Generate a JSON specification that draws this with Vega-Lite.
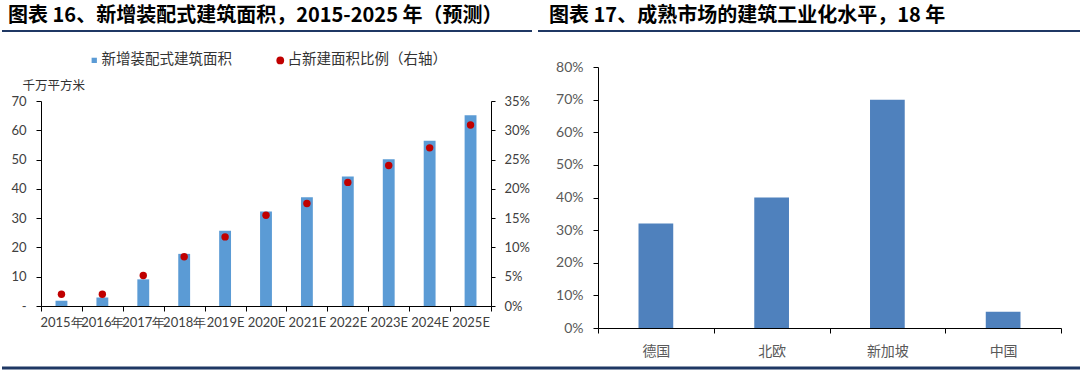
{
  "$schema": "https://vega.github.io/schema/vega-lite/v6.json",
  "padding": {"left": 0, "top": 6, "right": 0, "bottom": 0},
  "background": "white",
  "config": {"view": {"stroke": null}, "axis": {"grid": false}, "font": "Lato"},
  "spacing": 8,
  "vconcat": [
    {
      "spacing": 3,
      "hconcat": [
        {
          "spacing": 21,
          "vconcat": [
            {
              "width": 450, "height": 1,
              "data": {"values": [{}]},
              "title": {"text": "图表 16、新增装配式建筑面积，2015-2025 年（预测）", "anchor": "start", "dx": 7, "offset": 4, "font": "Noto Sans CJK SC", "fontSize": 20, "fontWeight": "bold", "color": "#000000"},
              "mark": {"type": "rule", "color": "#1F3864", "strokeWidth": 2},
              "encoding": {
                "x": {"datum": -39, "type": "quantitative", "scale": {"domain": [0, 450], "nice": false, "zero": false}, "axis": null},
                "x2": {"datum": 491},
                "y": {"datum": 0, "type": "quantitative", "scale": {"domain": [0, 1]}, "axis": null}
              }
            },
            {
              "resolve": {"scale": {"color": "independent"}, "legend": {"color": "independent"}},
              "hconcat": [
                {
                  "width": 450, "height": 205,
                  "data": {"values": [
                    {"year": "2015年", "area": 1.8, "ratio": 0.020},
                    {"year": "2016年", "area": 2.9, "ratio": 0.020},
                    {"year": "2017年", "area": 9.1, "ratio": 0.052},
                    {"year": "2018年", "area": 17.8, "ratio": 0.084},
                    {"year": "2019E", "area": 25.7, "ratio": 0.118},
                    {"year": "2020E", "area": 32.3, "ratio": 0.155},
                    {"year": "2021E", "area": 37.1, "ratio": 0.175},
                    {"year": "2022E", "area": 44.2, "ratio": 0.211},
                    {"year": "2023E", "area": 50.1, "ratio": 0.240},
                    {"year": "2024E", "area": 56.4, "ratio": 0.270},
                    {"year": "2025E", "area": 65.1, "ratio": 0.309}
                  ]},
                  "layer": [
                    {
                      "mark": {"type": "bar", "width": {"band": 0.29}},
                      "encoding": {
                        "x": {"field": "year", "type": "nominal", "sort": null,
                          "scale": {"paddingInner": 0, "paddingOuter": 0},
                          "axis": {"title": ".", "titleOpacity": 0, "titleX": -39, "titleY": 0, "titleAlign": "left", "titleBaseline": "top", "titleFontSize": 2,
                            "tickBand": "extent", "tickSize": 5, "labelAngle": 0, "labelOverlap": false, "labelFont": "Lato", "labelFontSize": 13, "labelColor": "#404040", "labelPadding": 5, "domainColor": "#000000", "tickColor": "#000000"}},
                        "y": {"field": "area", "type": "quantitative", "scale": {"domain": [0, 70]},
                          "axis": {"values": [0, 10, 20, 30, 40, 50, 60, 70], "labelExpr": "datum.value === 0 ? '-\u00a0\u00a0\u00a0' : datum.label",
                            "title": "千万平方米", "titleAngle": 0, "titleX": -19, "titleY": -16, "titleAlign": "left", "titleBaseline": "middle", "titleFont": "Noto Sans CJK SC", "titleFontSize": 12.5, "titleFontWeight": "normal", "titleColor": "#333333",
                            "labelFont": "Lato", "labelFontSize": 13, "labelColor": "#404040", "tickSize": 5, "labelPadding": 10, "domainColor": "#000000", "tickColor": "#000000"}},
                        "color": {"datum": "新增装配式建筑面积", "type": "nominal",
                          "scale": {"domain": ["新增装配式建筑面积", "占新建面积比例（右轴）"], "range": ["#5B9BD5", "#C00000"]},
                          "legend": {"orient": "none", "legendX": 46, "legendY": -48, "direction": "horizontal", "columns": 2, "title": null, "padding": 0,
                            "labelFont": "Noto Sans CJK SC", "labelFontSize": 14.5, "labelColor": "#333333", "columnPadding": 41, "labelOffset": 0, "symbolSize": 60,
                            "encode": {"symbols": {"update": {
                              "shape": {"signal": "datum.value === '新增装配式建筑面积' ? 'square' : 'circle'"},
                              "size": {"signal": "datum.value === '新增装配式建筑面积' ? 28 : 60"}}}}}}
                      }
                    },
                    {
                      "mark": {"type": "point", "filled": true, "size": 55, "opacity": 1},
                      "encoding": {
                        "x": {"field": "year", "type": "nominal", "sort": null},
                        "y": {"field": "ratio", "type": "quantitative", "scale": {"domain": [0, 0.35]},
                          "axis": {"orient": "right", "values": [0, 0.05, 0.1, 0.15, 0.2, 0.25, 0.3, 0.35], "format": ".0%", "title": null,
                            "labelFont": "Lato", "labelFontSize": 13, "labelColor": "#404040", "tickSize": 4, "labelPadding": 9, "domainColor": "#000000", "tickColor": "#000000"}},
                        "color": {"datum": "占新建面积比例（右轴）", "type": "nominal"}
                      }
                    }
                  ],
                  "resolve": {"scale": {"y": "independent"}}
                }
              ]
            }
          ]
        },
        {
          "spacing": 28,
          "vconcat": [
            {
              "width": 463, "height": 1,
              "data": {"values": [{}]},
              "title": {"text": "图表 17、成熟市场的建筑工业化水平，18 年", "anchor": "start", "dx": 12, "offset": 4, "font": "Noto Sans CJK SC", "fontSize": 20, "fontWeight": "bold", "color": "#000000"},
              "mark": {"type": "rule", "color": "#1F3864", "strokeWidth": 2},
              "encoding": {
                "x": {"datum": -60, "type": "quantitative", "scale": {"domain": [0, 463], "nice": false, "zero": false}, "axis": null},
                "x2": {"datum": 483},
                "y": {"datum": 0, "type": "quantitative", "scale": {"domain": [0, 1]}, "axis": null}
              }
            },
            {
              "hconcat": [
                {
                  "width": 463, "height": 261,
                  "data": {"values": [
                    {"country": "德国", "value": 0.32},
                    {"country": "北欧", "value": 0.40},
                    {"country": "新加坡", "value": 0.70},
                    {"country": "中国", "value": 0.05}
                  ]},
                  "mark": {"type": "bar", "width": {"band": 0.3}, "color": "#4F81BD"},
                  "encoding": {
                    "x": {"field": "country", "type": "nominal", "sort": null,
                      "scale": {"paddingInner": 0, "paddingOuter": 0},
                      "axis": {"title": ".", "titleOpacity": 0, "titleX": -60, "titleY": 0, "titleAlign": "left", "titleBaseline": "top", "titleFontSize": 2,
                        "tickBand": "extent", "tickSize": 5, "labelAngle": 0, "labelFont": "Noto Sans CJK SC", "labelFontSize": 14, "labelColor": "#595959", "labelPadding": 11, "domainColor": "#000000", "tickColor": "#000000"}},
                    "y": {"field": "value", "type": "quantitative", "scale": {"domain": [0, 0.8]},
                      "axis": {"values": [0, 0.1, 0.2, 0.3, 0.4, 0.5, 0.6, 0.7, 0.8], "format": ".0%", "title": null,
                        "labelFont": "Lato", "labelFontSize": 14, "labelColor": "#595959", "tickSize": 5, "labelPadding": 10, "domainColor": "#000000", "tickColor": "#000000"}}
                  }
                }
              ]
            }
          ]
        }
      ]
    },
    {
      "width": 1041, "height": 1,
      "data": {"values": [{}]},
      "mark": {"type": "rule", "color": "#1F3864", "strokeWidth": 3},
      "encoding": {
        "x": {"datum": -39, "type": "quantitative", "scale": {"domain": [0, 1041], "nice": false, "zero": false}, "axis": null},
        "x2": {"datum": 1041},
        "y": {"datum": 0, "type": "quantitative", "scale": {"domain": [0, 1]}, "axis": null}
      }
    }
  ]
}
